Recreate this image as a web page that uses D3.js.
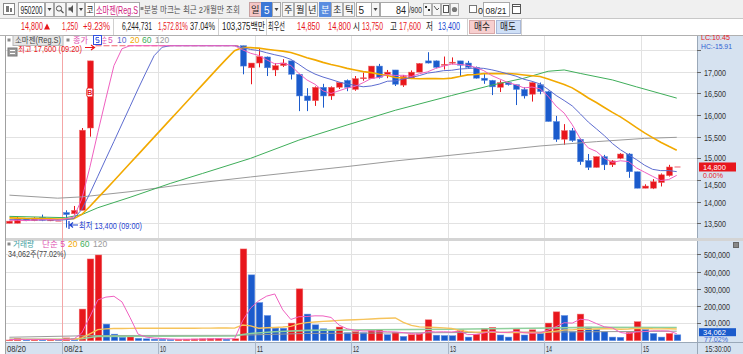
<!DOCTYPE html>
<html><head><meta charset="utf-8">
<script src="https://cdn.jsdelivr.net/npm/d3@7"></script>
<style>
html,body{margin:0;padding:0;background:#fff;overflow:hidden;}
svg{display:block;font-family:"Liberation Sans","Noto Sans CJK KR",sans-serif;}
</style></head><body>
<svg id="c" width="743" height="354"></svg>
<script>
// ---------------- DATA ----------------
// 5-minute candles: last 7 of 08/20, then 08/21 09:00 .. 15:20
const times = (function(){ const a=[]; ["14:50","14:55","15:00","15:05","15:10","15:15","15:20"].forEach(t=>a.push("08/20 "+t));
  for(let m=0;m<=380;m+=5){const h=9+Math.floor(m/60),mm=m%60;a.push("08/21 "+String(h).padStart(2,"0")+":"+String(mm).padStart(2,"0"));} return a;})();

const opens  = [13500,13500,13600,13560,13640,13560,13550,
  13750,13720,13800,15700,
  17600,17600,17600,17600,17600,17600,17600,17600,17600,17600,17600,17600,17600,17600,17600,17600,17600,17600,
  17600,17090,17200,17340,17040,17140,17250,16940,16440,16330,16640,16440,16640,16800,16590,16850,16840,17130,16940,17040,
  16690,16840,16990,17250,17250,17150,17200,17250,17200,17100,16850,16800,16640,16750,16700,16590,16480,16700,16540,15850,
  15440,15640,15440,14950,14790,15040,14850,15000,15100,14690,14310,14310,14440,14600,14800];
const highs  = [13550,13650,13600,13640,13700,13580,13550,
  13800,13900,15700,17250,
  17600,17600,17600,17600,17600,17600,17600,17600,17600,17600,17600,17600,17600,17600,17600,17600,17600,17600,
  17600,17200,17550,17350,17200,17290,17250,16950,16620,16660,16720,16660,16750,16820,16900,16980,17130,17180,17040,17040,
  16920,17030,17200,17450,17260,17350,17330,17250,17250,17120,16950,16810,16800,16770,16700,16640,16750,16750,16560,15980,
  15790,15700,15460,15100,15040,15080,14960,15120,15120,14690,14400,14520,14650,14850,14800];
const lows   = [13500,13500,13550,13550,13550,13550,13550,
  13400,13700,13800,15500,
  17600,17600,17600,17600,17600,17600,17600,17600,17600,17600,17600,17600,17600,17600,17600,17600,17600,17600,
  16940,16710,17100,16900,16900,17110,16820,16090,16090,16210,16170,16350,16600,16550,16560,16790,16840,16840,16850,16670,
  16650,16830,16990,17190,17080,17050,17170,16900,17080,16840,16720,16460,16530,16680,16230,16380,16310,16480,15850,15380,
  15310,15380,14850,14730,14790,14730,14800,14980,14550,14310,14310,14290,14350,14580,14800];
const closes = [13550,13600,13560,13620,13570,13580,13550,
  13700,13800,15650,17250,
  17600,17600,17600,17600,17600,17600,17600,17600,17600,17600,17600,17600,17600,17600,17600,17600,17600,17600,
  17130,17200,17350,17090,17140,17200,16940,16440,16330,16640,16440,16640,16750,16640,16840,16860,17130,16870,16990,16710,
  16890,16990,17190,17200,17100,17170,17220,17150,17100,16850,16800,16650,16750,16700,16590,16440,16750,16540,15850,15440,
  15640,15410,14920,14790,15040,14850,14940,15100,14690,14310,14360,14460,14620,14800,14800];
const volumes = [4000,14000,6000,7000,5000,6000,5000,
  16000,13000,183000,473000,
  496000,96000,38000,20000,22000,14000,11000,9000,8000,7000,8000,9000,10000,11000,12000,13000,9000,11000,
  531000,381000,221000,146000,73000,72000,102000,300000,154000,92000,69000,58000,79000,46000,52000,46000,60000,65000,35000,48000,
  25000,35000,40000,121000,32000,30000,29000,63000,21000,38000,71000,77000,33000,21000,67000,33000,63000,42000,102000,167000,
  146000,52000,154000,79000,65000,52000,21000,20000,48000,110000,65000,42000,21000,42000,34062];

// closes / volumes before the visible window (estimated, used for the moving averages)
const priorCloses  = [13700,13700,13650,13650,13700,13650,13650,13700,13650,13600,13600,13650,13600,13600,13550,13600,13600,13550,13550];
const priorVolumes = [9000,8000,8000,9000,7000,8000,9000,8000,7000,8000,9000,8000,7000,8000,6000,7000,8000,6000,7000];

// long moving averages (candle index, value)
const ma60Idx  = [0,7,9,11,15,20,24,30,36,42,48,55,60,64,67,69,71,75,78,83];
const ma60Val  = [13660,13630,13700,13860,14100,14420,14650,15000,15420,15770,16110,16450,16690,16850,17010,17040,16960,16810,16650,16390];
const ma120Idx = [0,6,9,15,21,30,36,42,48,58,66,73,79,83];
const ma120Val = [14150,14080,14110,14230,14380,14570,14690,14810,14940,15130,15285,15385,15460,15485];
const vma60Idx  = [0,7,9,10,11,28,29,30,33,37,45,55,65,72,83];
const vma60Val  = [8000,8000,11000,19000,25000,27000,36000,42000,52000,60000,63000,66000,72000,77000,76000];
const vma120Idx = [0,11,28,37,60,83];
const vma120Val = [20000,30000,31000,42000,48000,55000];

const priceTicks = [13500,14000,14500,15000,15500,16000,16500,17000,17500];
const priceLabels = [13500,14000,14500,15000,15500,16000,16500,17000];
const volTicks = [100000,200000,300000,400000,500000];
const dateTickIdx = [0,7,19,31,43,55,67,79];
const dateTickLbl = ["08/20","08/21","10","11","12","13","14","15"];

// ---------------- CHART ----------------
const svg = d3.select('#c');
const RED='#e8161c', BLUE='#1b5bcc', AXBG='#d6e2f0';
const plotL=6, plotR=697, priceTop=36, priceBot=238, volTop=241, volBot=342;
const x = d3.scaleLinear().domain([0,83]).range([9.42,676.74]);
const step = x(1)-x(0);
const y = d3.scaleLinear().domain([13500,17000]).range([223.3,71.7]);
const yv = d3.scaleLinear().domain([0,500000]).range([340.7,254.3]);

// text helper: when a width is given, the text is condensed horizontally with a transform
function T(g,xx,yy,s,o={}){
  const t=g.append('text').text(s).attr('font-size',o.size||9).attr('fill',o.fill||'#333');
  if(o.weight) t.attr('font-weight',o.weight);
  if(o.len){
    t.attr('x',0).attr('y',0);
    const nat=t.node().getComputedTextLength()||o.len;
    const sx=Math.min(1.2,o.len/nat);
    const x0 = o.anchor==='end'? xx-o.len : xx;
    t.attr('transform',`translate(${x0},${yy}) scale(${sx},1)`);
  } else {
    t.attr('x',xx).attr('y',yy);
    if(o.anchor) t.attr('text-anchor',o.anchor);
  }
  return t;}
function R(g,xx,yy,w,h,fill,stroke){return g.append('rect').attr('x',xx).attr('y',yy).attr('width',w).attr('height',h)
  .attr('fill',fill||'none').attr('stroke',stroke||'none');}

svg.append('rect').attr('width',743).attr('height',354).attr('fill','#fff');

// ----- header -----
const hd = svg.append('g');
R(hd,0,0,743,18,'#f0f0f0');
R(hd,0,18,743,17,'#fff');
hd.append('line').attr('x1',0).attr('x2',743).attr('y1',18.5).attr('y2',18.5).attr('stroke','#c8c8c8');
hd.append('line').attr('x1',0).attr('x2',743).attr('y1',35.5).attr('y2',35.5).attr('stroke','#b0b0b0');
// row 1
R(hd,3.5,3.5,11,11,'#fff','#888'); R(hd,6,6,3,6,'#777'); R(hd,10,8,2,4,'#777');
R(hd,18.5,2.5,26,14,'#fff','#a8a8a8'); T(hd,20.5,13.5,'950200',{size:10,len:22,fill:'#222'});
R(hd,45.5,2.5,8,14,'#f6f6f6','#a8a8a8'); hd.append('path').attr('d','M47.5,8 L51.5,8 L49.5,11 Z').attr('fill','#444');
R(hd,54.5,2.5,11,14,'#f6f6f6','#a8a8a8');
hd.append('circle').attr('cx',59).attr('cy',8.5).attr('r',2.6).attr('fill','none').attr('stroke','#555');
hd.append('line').attr('x1',61).attr('y1',10.5).attr('x2',63.5).attr('y2',13).attr('stroke','#555').attr('stroke-width',1.3);
R(hd,66.5,2.5,10,14,'#f6f6f6','#a8a8a8');
hd.append('path').attr('d','M68.5,7.5 L70.5,7.5 L73,5 L73,13 L70.5,10.5 L68.5,10.5 Z').attr('fill','#555');
R(hd,77.5,2.5,7,14,'#f6f6f6','#a8a8a8'); hd.append('path').attr('d','M79,8 L83,8 L81,11 Z').attr('fill','#444');
R(hd,85.5,2.5,9,14,'#fff','#a8a8a8'); T(hd,86.5,13,'코',{size:9,len:7,fill:'#222'});
R(hd,94.5,2.5,45,14,'#fff','#a8a8a8'); T(hd,96,13.5,'소마젠(Reg.S',{size:10,len:42,fill:'#d0207e'});
R(hd,140.5,7,3,3,'#888'); T(hd,144,13,'분봉 마크는 최근 2개월만 조회',{size:9,len:96,fill:'#555'});
R(hd,249.5,2.5,12,14,'#f5c6c6','#c8a0a0'); T(hd,251,13,'일',{size:9,len:8.5,fill:'#222'});
R(hd,261.5,2.5,10,14,'#3a76d6','#3a76d6'); T(hd,264,13.5,'5',{size:10,fill:'#fff'});
R(hd,272.5,2.5,8,14,'#f6f6f6','#a8a8a8'); hd.append('path').attr('d','M274.5,8 L278.5,8 L276.5,11 Z').attr('fill','#444');
[['주',282.5],['월',294.5],['년',306.5],['분',319.5],['초',331.5],['틱',343.5]].forEach(([s,xx])=>{
  const sel = s==='분';
  R(hd,xx,2.5,11,14,sel?'#5a8ce0':'#f6f6f6',sel?'#5a8ce0':'#b0b0b0');
  T(hd,xx+1.5,13,s,{size:9,len:8.5,fill:sel?'#fff':'#222'});});
R(hd,356.5,2.5,15,14,'#fff','#a8a8a8'); T(hd,358.5,13.5,'5',{size:10,fill:'#222'});
R(hd,371.5,2.5,8,14,'#f6f6f6','#a8a8a8'); hd.append('path').attr('d','M373.5,8 L377.5,8 L375.5,11 Z').attr('fill','#444');
R(hd,380.5,2.5,28,14,'#fff','#a8a8a8'); T(hd,406,13.5,'84',{size:10,len:10,anchor:'end',fill:'#222'});
T(hd,409,13,'/900',{size:8.5,len:13,fill:'#333'});
[423,432,441,450].forEach((xx,k)=>{R(hd,xx+0.5,3.5,8,12,'#f6f6f6','#b0b0b0');
  if(k===0){R(hd,xx+2,6,2,2,'#333');R(hd,xx+5,9,2,2,'#333');}
  if(k===1){hd.append('path').attr('d',`M${xx+2},6 L${xx+5},10 L${xx+7},8`).attr('stroke','#555').attr('fill','none');}
  if(k===2){R(hd,xx+2.5,5.5,5,7,'#fff','#555');}
  if(k===3){hd.append('circle').attr('cx',xx+4.5).attr('cy',9.5).attr('r',2.6).attr('fill','#777');}});
R(hd,469.5,5.5,7,7,'#fff','#777'); T(hd,478,13.5,'0',{size:9,fill:'#222'});
R(hd,483.5,2.5,26,14,'#fff','#a8a8a8'); T(hd,485.5,13.5,'08/21',{size:9.5,len:21,fill:'#222'});
R(hd,512.5,4.5,8,9,'#fff','#555'); hd.append('line').attr('x1',512.5).attr('x2',520.5).attr('y1',6.5).attr('y2',6.5).attr('stroke','#555');
// row 2
const r2y=30;
T(hd,21,r2y,'14,800',{size:10,len:22,fill:RED});
hd.append('path').attr('d','M44,29.5 L50,29.5 L47,23.5 Z').attr('fill',RED);
T(hd,62,r2y,'1,250',{size:10,len:16,fill:RED});
T(hd,83,r2y,'+9.23%',{size:10,len:27,fill:RED});
[113.5,218.5,266.5,467.5,521.5].forEach(xx=>hd.append('line').attr('x1',xx).attr('x2',xx).attr('y1',19).attr('y2',35).attr('stroke','#d0d0d0'));
T(hd,122,r2y,'6,244,731',{size:10,len:30,fill:'#222'});
T(hd,158,r2y,'1,572.81%',{size:10,len:30,fill:RED});
T(hd,190,r2y,'37.04%',{size:10,len:25,fill:'#222'});
T(hd,222,r2y,'103,375백만',{size:10,len:43,fill:'#222'});
T(hd,268,r2y,'최우선',{size:10,len:17,fill:'#222'});
T(hd,297,r2y,'14,850',{size:10,len:23,fill:RED});
T(hd,328,r2y,'14,800',{size:10,len:23,fill:RED});
T(hd,353,r2y,'시',{size:10,len:7,fill:'#222'}); T(hd,362,r2y,'13,750',{size:10,len:21,fill:RED});
T(hd,390,r2y,'고',{size:10,len:7,fill:'#222'}); T(hd,399,r2y,'17,600',{size:10,len:22,fill:RED});
T(hd,426,r2y,'저',{size:10,len:7,fill:'#222'}); T(hd,438,r2y,'13,400',{size:10,len:22,fill:'#2046d0'});
R(hd,469.5,20.5,25,13,'#f7cfcf','#d8a8a8'); T(hd,474,30,'매수',{size:10,len:16,fill:'#222'});
R(hd,496.5,20.5,24,13,'#cfe0f7','#a8b8d8'); T(hd,500,30,'매도',{size:10,len:16,fill:'#222'});

// ----- chart frame -----
const fr = svg.append('g');
R(fr,697,36,46,318,AXBG);
R(fr,plotL,342,697-plotL,12,AXBG);
fr.append('line').attr('x1',5.5).attr('x2',5.5).attr('y1',36).attr('y2',354).attr('stroke','#a0a0a0');
fr.append('line').attr('x1',697.5).attr('x2',697.5).attr('y1',36).attr('y2',354).attr('stroke','#9aa8b8');
R(fr,6,238,737,3,'#d4d4d4');
fr.append('line').attr('x1',6).attr('x2',743).attr('y1',342.5).attr('y2',342.5).attr('stroke','#9aa8b8');

// grid
const grid = svg.append('g').attr('stroke','#e2e2e2').attr('stroke-width',1);
priceTicks.forEach(v=>grid.append('line').attr('x1',plotL).attr('x2',plotR).attr('y1',Math.round(y(v))+0.5).attr('y2',Math.round(y(v))+0.5));
volTicks.forEach(v=>grid.append('line').attr('x1',plotL).attr('x2',plotR).attr('y1',Math.round(yv(v))+0.5).attr('y2',Math.round(yv(v))+0.5));
dateTickIdx.slice(2).forEach(i=>{const gx=Math.round(x(i)-step/2)+0.5;
  grid.append('line').attr('x1',gx).attr('x2',gx).attr('y1',priceTop).attr('y2',priceBot);
  grid.append('line').attr('x1',gx).attr('x2',gx).attr('y1',volTop).attr('y2',volBot);
  svg.append('line').attr('x1',gx).attr('x2',gx).attr('y1',342).attr('y2',354).attr('stroke','#a8b6c8');});
const sepX = Math.round(x(7)-step/2)+0.5;
svg.append('line').attr('x1',sepX).attr('x2',sepX).attr('y1',priceTop).attr('y2',volBot).attr('stroke','#f4a6a6');
svg.append('line').attr('x1',sepX).attr('x2',sepX).attr('y1',342).attr('y2',354).attr('stroke','#a8b6c8');

// moving averages
function sma(prior, arr, n){const all=prior.concat(arr), off=prior.length;
  return arr.map((_,i)=>{const s=all.slice(off+i-n+1,off+i+1);return d3.mean(s);});}
const ma5=sma(priorCloses,closes,5), ma10=sma(priorCloses,closes,10), ma20=sma(priorCloses,closes,20);
const vma5=sma(priorVolumes,volumes,5), vma20=sma(priorVolumes,volumes,20);

// ----- price panel -----
const pp = svg.append('g');
const lineP = d3.line().x(d=>x(d[0])).y(d=>y(d[1]));
const lineV = d3.line().x(d=>x(d[0])).y(d=>yv(d[1]));
const cand = pp.append('g');
closes.forEach((c,i)=>{
  const o=opens[i],h=highs[i],l=lows[i], up=c>=o, col=up?RED:BLUE, cx=Math.round(x(i))+0.5;
  if(h===l){cand.append('line').attr('x1',cx-3).attr('x2',cx+3).attr('y1',y(c)).attr('y2',y(c)).attr('stroke','#f07a86').attr('stroke-width',1.2);return;}
  cand.append('line').attr('x1',cx).attr('x2',cx).attr('y1',y(h)).attr('y2',y(l)).attr('stroke',col).attr('stroke-width',1);
  const top=y(Math.max(o,c)), bot=y(Math.min(o,c));
  cand.append('rect').attr('x',cx-3).attr('y',top).attr('width',6).attr('height',Math.max(1,bot-top)).attr('fill',col)
    .attr('stroke',up?'#f06a6a':'#5a8ae0').attr('stroke-width',0.5);
});
pp.append('path').attr('d',lineP(ma120Idx.map((k,j)=>[k,ma120Val[j]]))).attr('fill','none').attr('stroke','#9a9a9a').attr('stroke-width',1);
pp.append('path').attr('d',lineP(ma60Idx.map((k,j)=>[k,ma60Val[j]]))).attr('fill','none').attr('stroke','#3fae5a').attr('stroke-width',1);
pp.append('path').attr('d',lineP(ma20.map((v,i)=>[i,v]))).attr('fill','none').attr('stroke','#f2a900').attr('stroke-width',1.6);
pp.append('path').attr('d',lineP(ma10.map((v,i)=>[i,v]))).attr('fill','none').attr('stroke','#5d6cd0').attr('stroke-width',1);
pp.append('path').attr('d',lineP(ma5.map((v,i)=>[i,v]))).attr('fill','none').attr('stroke','#f060c0').attr('stroke-width',1);
// B marker
const bI=10, bY=y((opens[bI]+closes[bI])/2)-2;
R(pp,x(bI)-3,bY-4.5,6,9,'#fff',RED).attr('rx',1.5);
T(pp,x(bI),bY+3,'B',{size:7,fill:RED,anchor:'middle',weight:'bold'});

// annotations
R(pp,8,48,9,8,'#9c9c9c','#777');
pp.append('line').attr('x1',10).attr('x2',15).attr('y1',50.5).attr('y2',50.5).attr('stroke','#fff');
pp.append('line').attr('x1',10).attr('x2',15).attr('y1',53.5).attr('y2',53.5).attr('stroke','#fff');
T(pp,18,52,'최고 17,600 (09:20)',{size:8.5,len:64,fill:RED});
pp.append('path').attr('d','M85,47.5 L94,47.5 M91,45 L94.5,47.5 L91,50').attr('stroke',RED).attr('fill','none').attr('stroke-width',1.2);
pp.append('path').attr('d','M69,221 L69,229 M70,225 L78,225 M73,222.5 L70,225 L73,227.5').attr('stroke','#1f44d0').attr('fill','none').attr('stroke-width',1.2);
T(pp,79,228.5,'최저 13,400 (09:00)',{size:9,len:63,fill:'#1f44d0'});

// price legend
R(pp,7.5,38.5,3,3,'#888');
R(pp,13,35.5,50,10,'#e6e6e6','#b8b8b8');
T(pp,15,42.8,'소마젠(Reg.S)',{size:8.5,len:46,fill:'#444'});
R(pp,66.5,38.5,3,3,'#888');
T(pp,73,42.8,'종가',{size:8.5,len:15,fill:'#e050b0'});
R(pp,93.5,35.5,8,9,'#fff','#3050e0');
pp.append('path').attr('d','M96,37.5 L99,37.5 M96,37.5 L96,40 L99,40 L99,42.5 L96,42.5').attr('stroke','#3050e0').attr('fill','none').attr('stroke-width',0.9);
T(pp,102,42.8,'순',{size:8,len:5,fill:'#e050b0'});
T(pp,108,42.8,'5',{size:8.5,fill:'#e050b0'});
T(pp,117,42.8,'10',{size:8.5,fill:'#5d6cd0'});
T(pp,130,42.8,'20',{size:8.5,fill:'#f2a900'});
T(pp,142,42.8,'60',{size:8.5,fill:'#3fae5a'});
T(pp,155,42.8,'120',{size:8.5,fill:'#9a9a9a'});

// ----- volume panel -----
const vp = svg.append('g');
volumes.forEach((v,i)=>{const col=(i===0||v>=volumes[i-1])?RED:BLUE, cx=Math.round(x(i))+0.5;
  vp.append('rect').attr('x',cx-3.3).attr('y',yv(v)).attr('width',6.6).attr('height',yv(0)-yv(v)).attr('fill',col)
    .attr('stroke',col===RED?'#f07070':'#6a96e6').attr('stroke-width',0.5);});
vp.append('path').attr('d',lineV(vma120Idx.map((k,j)=>[k,vma120Val[j]]))).attr('fill','none').attr('stroke','#9a9a9a').attr('stroke-width',1);
vp.append('path').attr('d',lineV(vma60Idx.map((k,j)=>[k,vma60Val[j]]))).attr('fill','none').attr('stroke','#8fd09c').attr('stroke-width',1.6);
vp.append('path').attr('d',lineV(vma20.map((v,i)=>[i,v]))).attr('fill','none').attr('stroke','#f6c35a').attr('stroke-width',1.4);
vp.append('path').attr('d',lineV(vma5.map((v,i)=>[i,v]))).attr('fill','none').attr('stroke','#f060c0').attr('stroke-width',1);
R(vp,7.5,242.5,3,3,'#888');
T(vp,13,247,'거래량',{size:8.5,len:21,fill:'#3aa0a0'});
T(vp,42,247,'단순 5',{size:8.5,len:23,fill:'#e050b0'});
T(vp,68,247,'20',{size:8.5,fill:'#f2a900'});
T(vp,80,247,'60',{size:8.5,fill:'#3fae5a'});
T(vp,93,247,'120',{size:8.5,fill:'#9a9a9a'});
T(vp,8,257,'34,062주(77.02%)',{size:8.5,len:58,fill:'#444'});

// ----- right axis -----
const ax = svg.append('g');
priceTicks.forEach(v=>{const yy=Math.round(y(v))+0.5;
  ax.append('line').attr('x1',697).attr('x2',701).attr('y1',yy).attr('y2',yy).attr('stroke','#666');});
priceLabels.forEach(v=>{const yy=Math.round(y(v))+0.5;
  if(v===14500) T(ax,704,187.6,d3.format(',')(v),{size:8.5,len:22,fill:'#333'});
  else if(v===15000) T(ax,704,161,d3.format(',')(v),{size:9,len:22,fill:'#333'});
  else T(ax,704,yy+3.5,d3.format(',')(v),{size:9,len:22,fill:'#333'});});
T(ax,701,40.3,'LC:10.45',{size:7.5,len:29,fill:RED});
T(ax,701,48.8,'HC:-15.91',{size:7.5,len:31,fill:'#2f60d0'});
const cy=y(closes[83]);
R(ax,699,cy-4.5,37,9,RED);
T(ax,703,170.2,'14,800',{size:7.5,len:23,fill:'#fff'});
T(ax,703,178.3,'0.00%',{size:7,len:20,fill:RED});
volTicks.forEach(v=>{const yy=Math.round(yv(v))+0.5;
  ax.append('line').attr('x1',697).attr('x2',701).attr('y1',yy).attr('y2',yy).attr('stroke','#666');
  if(v===100000) T(ax,704,326.3,d3.format(',')(v),{size:8.5,len:26,fill:'#333'});
  else T(ax,704,yy+3.5,d3.format(',')(v),{size:9,len:26,fill:'#333'});});
R(ax,733.5,242.5,5,5,'#888','#666');
R(ax,699,328.2,37,8,'#1b5bcc');
T(ax,703,334.8,'34,062',{size:7,len:23,fill:'#fff'});
T(ax,704,342.2,'77.02%',{size:6.5,len:24,fill:'#3c6ad6'});
T(ax,705,352,'15:30:00',{size:9,len:26,fill:'#333'});
dateTickIdx.forEach((i,k)=>{const gx=(k===0)?7:Math.round(x(i)-step/2)+2;
  T(ax,gx,351.5,dateTickLbl[k],{size:9,len:dateTickLbl[k].length>2?19:6,fill:'#333'});});
</script>
</body></html>
